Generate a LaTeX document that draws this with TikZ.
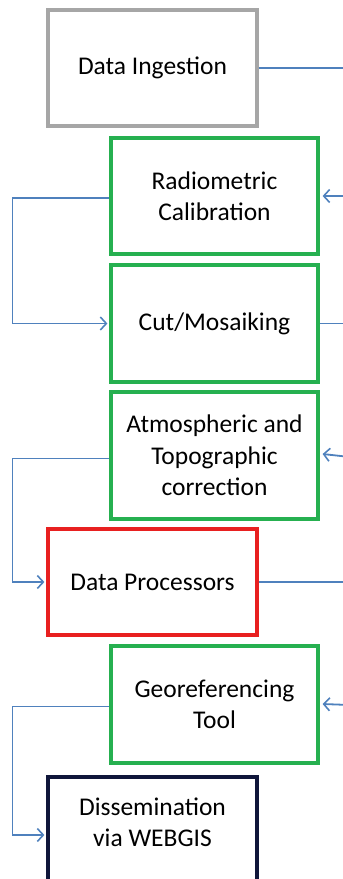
\documentclass[tikz,border=0pt]{standalone}
\usepackage{fontspec}
\setmainfont{Carlito}
\usepackage{xcolor}
\usetikzlibrary{arrows.meta,positioning}
\definecolor{boxgray}{RGB}{166,166,166}
\definecolor{stepgreen}{RGB}{38,176,80}
\definecolor{procred}{RGB}{232,32,32}
\definecolor{webnavy}{RGB}{16,22,58}
\definecolor{flowblue}{RGB}{79,129,189}

\begin{document}
\begin{tikzpicture}[x=1pt,y=-1pt,font=\fontsize{25.5}{31.5}\selectfont,
 >={Straight Barb[length=6pt,width=13pt,line width=1.6pt]},
 box/.style={draw,line width=3.2pt,fill=white,align=center,minimum width=209pt,minimum height=116pt,inner sep=0pt},
 stepbox/.style={box,draw=stepgreen,minimum width=207pt},
 flow/.style={draw=flowblue,line width=1.8pt}]
\useasboundingbox (0,0) rectangle (343,879);
\node[box,draw=boxgray] (ingest) at (152.5,68) {Data Ingestion};
\node[stepbox] (radio) at (214.5,196) {Radiometric\\Calibration};
\node[stepbox,minimum height=117pt] (cut) at (214.5,323.5) {Cut/Mosaiking};
\node[stepbox,minimum height=127pt] (atmo) at (214.5,455.5) {Atmospheric and\\Topographic\\correction};
\node[box,draw=procred,minimum height=106pt] (proc) at (152.5,582) {Data Processors};
\node[stepbox,minimum height=117pt] (geo) at (214.5,704.5) {Georeferencing\\Tool};
\node[box,draw=webnavy,text depth=26pt] (diss) at (152.5,835) {Dissemination\\via WEBGIS};
\coordinate (out1) at (350,68);
\coordinate (in1) at (350,196);
\coordinate (out2) at (350,323.5);
\coordinate (in2) at (350,457);
\coordinate (out3) at (350,582);
\coordinate (in3) at (350,705);
\draw[flow] (ingest.east)--(out1);
\draw[flow] (cut.east)--(out2);
\draw[flow] (proc.east)--(out3);
\draw[flow,->] (in1)--([xshift=3pt]radio.east);
\draw[flow,->] (in2)--([xshift=3pt,yshift=1.5pt]atmo.east);
\draw[flow,->] (in3)--([xshift=3pt,yshift=.5pt]geo.east);
\draw[flow,->] ([yshift=-2pt]radio.west)--++(-97,0) |- ([xshift=-2pt]cut.west);
\draw[flow,->] ([yshift=-3pt]atmo.west)--++(-97,0) |- ([xshift=-2pt]proc.west);
\draw[flow,->] ([yshift=-2pt]geo.west)--++(-97,0) |- ([xshift=-2pt]diss.west);
\end{tikzpicture}
\end{document}
